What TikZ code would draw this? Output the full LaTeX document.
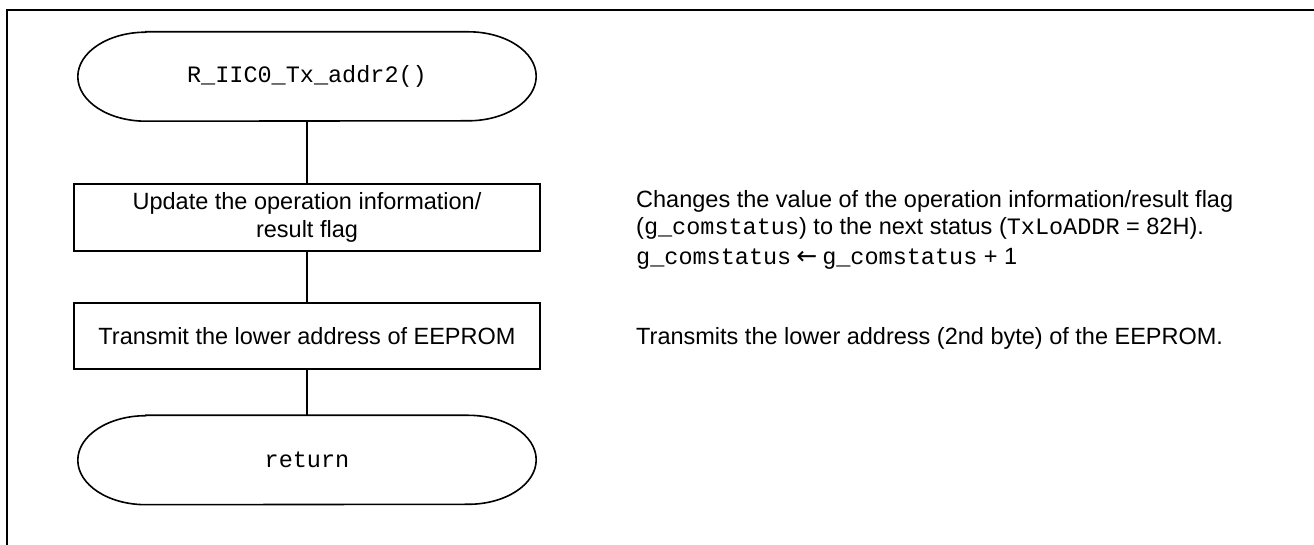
\documentclass[tikz,border=0pt]{standalone}
\usepackage{fontspec}
\setmainfont{Liberation Sans}
\setmonofont{Liberation Mono}
\newfontfamily\arrowfont{DejaVu Sans}

\tikzset{
  x=1pt, y=1pt,
  frameline/.style={line width=2pt},
  flowline/.style={line width=1.6pt},
  txt/.style={font=\fontsize{23.5}{28}\selectfont},
  procbox/.style={txt, draw, line width=1.6pt, minimum width=466pt,
    minimum height=67pt, align=center, inner sep=0pt},
  termnode/.style={minimum width=458pt, minimum height=89pt, inner sep=0pt,
    font=\fontsize{23.5}{28}\ttfamily},
  note/.style={txt, anchor=base west, inner sep=0pt},
}

% terminator outline: straight top and bottom with elliptic ends
\newcommand\termoutline[1]{%
  \draw[flowline] ([xshift=68pt]#1.north west) -- ([xshift=-68pt]#1.north east)
    arc[start angle=90, end angle=-90, x radius=68pt, y radius=44.5pt]
    -- ([xshift=68pt]#1.south west)
    arc[start angle=270, end angle=90, x radius=68pt, y radius=44.5pt]
    -- cycle;}

% assignment arrow used in the notes
\newcommand\assignarrow{\hspace{5pt}{\arrowfont\fontsize{25}{28}\selectfont ←}\hspace{5pt}}

\begin{document}
\begin{tikzpicture}
\useasboundingbox (0,0) rectangle (1314,545);

% outer frame (top and left edges)
\draw[frameline] (7,0) -- (7,535) -- (1314,535);

% flowchart
\node[termnode] (start) at (307,468.5) {R\_IIC0\_Tx\_addr2()};
\termoutline{start}
\node[procbox] (upd) at (307,327.5) {Update the operation information/\\result flag};
\node[procbox, minimum height=66pt] (tx) at (307,209) {Transmit the lower address of EEPROM};
\node[termnode] (ret) at (307,85) {return};
\termoutline{ret}

\draw[flowline] (start.south) -- (upd.north);
\draw[flowline] (upd.south) -- (tx.north);
\draw[flowline] (tx.south) -- (ret.north);

% explanatory notes
\node[note] (n1) at (636,337) {Changes the value of the operation information/result flag};
\node[note] (n2) at (636,310) {(\texttt{g\_comstatus}) to the next status (\texttt{TxLoADDR} = 82H).};
\node[note] (n3) at (636,280) {\texttt{g\_comstatus}\assignarrow\texttt{g\_comstatus} + 1};
\node[note] (n4) at (636,200.5) {Transmits the lower address (2nd byte) of the EEPROM.};
\end{tikzpicture}
\end{document}
